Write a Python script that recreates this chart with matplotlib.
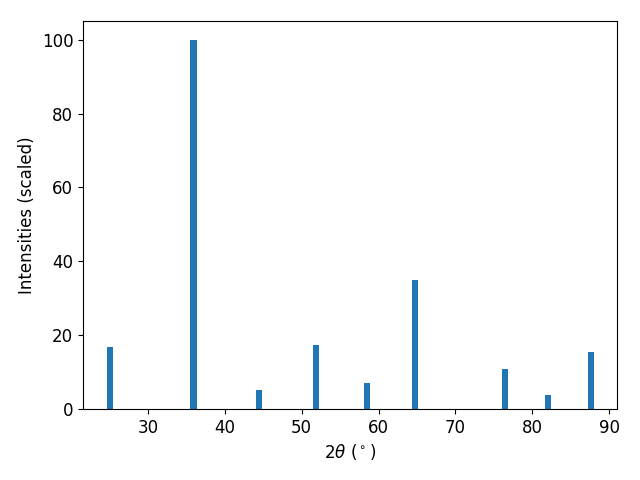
import matplotlib
matplotlib.use("Agg")
import matplotlib.pyplot as plt

two_theta = [25.05, 35.92, 44.47, 51.87, 58.5, 64.75, 76.47, 82.06, 87.66]
intensities = [16.8, 100.0, 5.1, 17.3, 7.0, 35.0, 10.8, 3.8, 15.4]

fig, ax = plt.subplots(figsize=(6.4, 4.8), dpi=100)
ax.bar(two_theta, intensities, width=0.8, color="#1f77b4")
ax.set_xlim(21.54, 91.04)
ax.set_ylim(0, 105.1)
ax.set_xlabel(r"2$\theta$ ($^\circ$)", fontsize=12)
ax.set_ylabel("Intensities (scaled)", fontsize=12)
ax.tick_params(labelsize=12)
fig.subplots_adjust(left=83/640, right=617/640, top=1-21/480, bottom=1-409/480)
fig.savefig("out.png", dpi=100)
